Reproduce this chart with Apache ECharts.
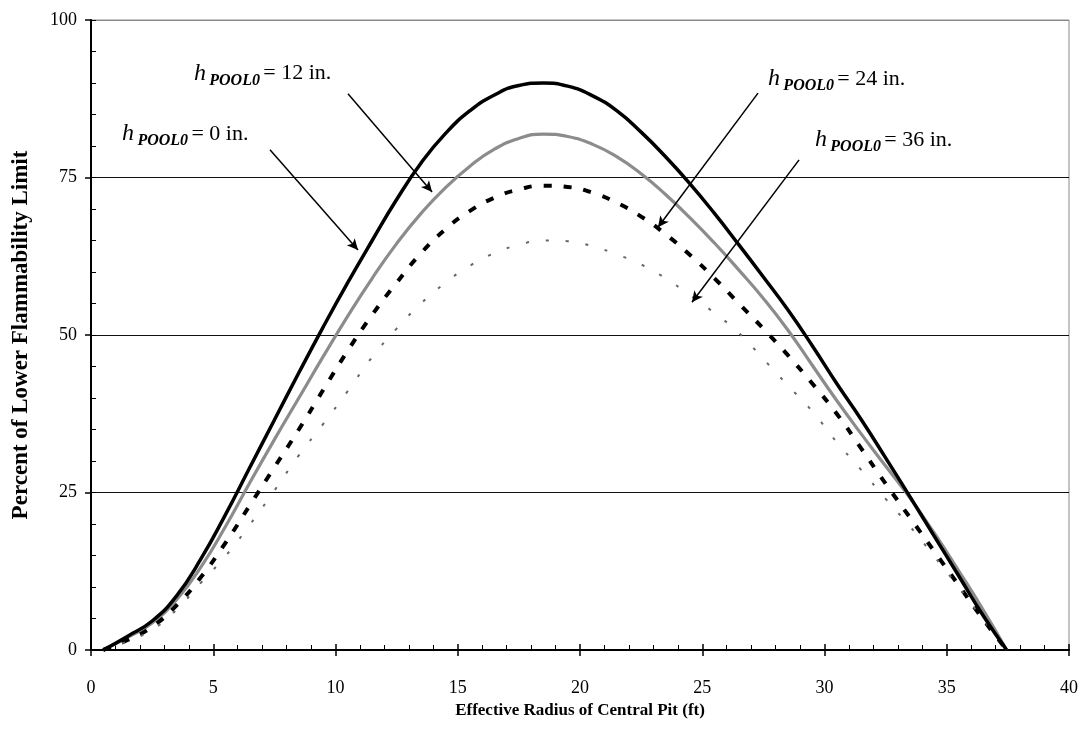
<!DOCTYPE html>
<html>
<head>
<meta charset="utf-8">
<script src="https://cdn.jsdelivr.net/npm/echarts@6/dist/echarts.min.js"></script>
<style>
  html, body { margin: 0; padding: 0; background: #fff; }
  #chart { width: 1082px; height: 742px; }
</style>
</head>
<body>
<div id="chart"></div>
<script>
// effective radius of central pit (ft)
var radius = [0.5, 1.5, 2.5, 3.5, 4.5, 5.5, 6.5, 7.5, 8.5, 9.5, 10.5, 11.5, 12.5, 13.5, 14.5, 15.5, 16.5, 17.5, 18.5,
    19.5, 20.5, 21.5, 22.5, 23.5, 24.5, 25.5, 26.5, 27.5, 28.5, 29.5, 30.5, 31.5, 32.5, 33.5, 34.5, 35.5, 36.5, 37.45];

// percent of LFL, one list per initial pool depth
var h0 = [0, 2.2, 4.6, 8.6, 14.5, 21.5, 29.0, 36.5, 44.0, 51.3, 58.3, 65.0, 71.5, 77.3, 82.0, 85.6, 88.1, 89.6, 90.0,
    89.5, 88.0, 85.6, 82.2, 78.3, 74.0, 69.3, 64.3, 59.2, 54.0, 48.3, 42.3, 36.6, 30.5, 24.3, 18.0, 11.7, 5.4, 0];
var h12 = [0, 2.0, 4.3, 8.0, 13.2, 19.6, 26.6, 33.4, 40.0, 46.6, 53.0, 59.0, 64.5, 69.3, 73.4, 76.8, 79.5, 81.2, 81.9,
    81.5, 80.3, 78.3, 75.6, 72.3, 68.6, 64.6, 60.3, 55.8, 50.8, 45.2, 39.6, 34.3, 29.2, 24.1, 18.5, 12.5, 6.3, 0];
var h24 = [0, 1.6, 3.7, 7.1, 11.6, 17.0, 23.0, 29.0, 35.0, 41.3, 47.5, 53.2, 58.3, 63.0, 66.8, 69.7, 71.8, 73.1, 73.7,
    73.5, 72.6, 71.0, 68.8, 66.0, 62.7, 59.0, 55.0, 51.0, 46.8, 42.3, 37.5, 32.0, 26.4, 21.0, 15.6, 10.2, 4.8, 0];
var h36 = [0, 1.4, 3.2, 6.4, 10.7, 14.9, 19.9, 25.3, 30.9, 35.9, 41.1, 46.5, 51.0, 55.0, 58.3, 61.0, 63.0, 64.3, 65.0,
    64.9, 64.1, 62.8, 61.2, 59.0, 56.3, 53.5, 50.3, 46.2, 42.0, 37.9, 33.0, 28.6, 24.0, 19.6, 14.8, 9.9, 4.8, 0];

var xTicks = [0, 5, 10, 15, 20, 25, 30, 35, 40];
var yTicks = [0, 25, 50, 75, 100];

// annotations, in data coordinates
var noteNames = ['0 in.', '12 in.', '24 in.', '36 in.'];
var noteAt = [[1.27, 81.4], [4.21, 91.0], [27.69, 90.2], [29.61, 80.5]];
var arrowFrom = [[7.32, 79.4], [10.51, 88.3], [27.28, 88.4], [28.96, 77.8]];
var arrowTo = [[10.92, 63.5], [13.95, 72.7], [23.19, 67.1], [24.58, 55.2]];

var serif = '"Liberation Serif", "DejaVu Serif", serif';

function pairs(xs, ys) {
    return xs.map(function (x, i) { return [x, ys[i]]; });
}

var chart = echarts.init(document.getElementById('chart'));

var arrows = arrowFrom.map(function (p, i) {
    return [{ coord: p }, { coord: arrowTo[i] }];
});

var option = {
    backgroundColor: '#fff',
    animation: false,
    grid: {
        left: 91, right: 13, top: 20, bottom: 92,
        show: true, borderColor: '#8a8a8a', borderWidth: 1
    },
    xAxis: [
        {
            type: 'value', position: 'bottom',
            min: 0, max: 40, interval: 5,
            name: 'Effective Radius of Central Pit (ft)',
            nameLocation: 'middle',
            nameGap: 50,
            nameTextStyle: { fontFamily: serif, fontWeight: 'bold', fontSize: 17, color: '#000' },
            axisLine: { lineStyle: { color: '#000', width: 2 } },
            axisTick: { show: true, length: 6, lineStyle: { color: '#000', width: 1.5 } },
            axisLabel: {
                margin: 29, fontFamily: serif, fontSize: 18, color: '#000',
                formatter: function (v) { return xTicks.indexOf(v) >= 0 ? String(v) : ''; }
            },
            splitLine: { show: false }
        },
        {
            // inner ticks + minor ticks
            type: 'value', position: 'bottom', offset: 0,
            min: 0, max: 40, interval: 5,
            axisLine: { show: false },
            axisTick: { show: true, inside: true, length: 6, lineStyle: { color: '#000', width: 1.5 } },
            minorTick: { show: true, splitNumber: 5, length: 5, lineStyle: { color: '#000', width: 1 } },
            axisLabel: { show: false },
            splitLine: { show: false }
        }
    ],
    yAxis: [
        {
            type: 'value', position: 'left',
            min: 0, max: 100, interval: 25,
            name: 'Percent of Lower Flammability Limit',
            nameLocation: 'middle',
            nameGap: 58,
            nameTextStyle: { fontFamily: serif, fontWeight: 'bold', fontSize: 23, color: '#000' },
            axisLine: { lineStyle: { color: '#000', width: 2 } },
            axisTick: { show: true, length: 6, lineStyle: { color: '#000', width: 1.5 } },
            axisLabel: {
                margin: 14, fontFamily: serif, fontSize: 18, color: '#000',
                formatter: function (v) { return yTicks.indexOf(v) >= 0 ? String(v) : ''; }
            },
            splitLine: { show: true, lineStyle: { color: ['#000', '#111', '#111', '#111', '#8a8a8a'], width: 1 } }
        },
        {
            type: 'value', position: 'left', offset: 0,
            min: 0, max: 100, interval: 25,
            axisLine: { show: false },
            axisTick: { show: true, inside: true, length: 5, lineStyle: { color: '#000', width: 1 } },
            minorTick: { show: true, splitNumber: 5, length: 5, lineStyle: { color: '#000', width: 1 } },
            axisLabel: { show: false },
            splitLine: { show: false }
        }
    ],
    series: [
        {
            name: 'h0', type: 'line', data: pairs(radius, h0), smooth: true,
            showSymbol: false, z: 4,
            lineStyle: { color: '#000', width: 3.5 },
            markLine: {
                silent: true,
                symbol: ['none', 'arrow'],
                symbolSize: [8, 11],
                label: { show: false },
                lineStyle: { color: '#000', width: 1.5, type: 'solid' },
                data: arrows
            }
        },
        {
            name: 'h12', type: 'line', data: pairs(radius, h12), smooth: true,
            showSymbol: false, z: 3,
            lineStyle: { color: '#8c8c8c', width: 3.2 }
        },
        {
            name: 'h24', type: 'line', data: pairs(radius, h24), smooth: true,
            showSymbol: false, z: 3,
            lineStyle: { color: '#000', width: 4, type: [8, 12] }
        },
        {
            name: 'h36', type: 'line', data: pairs(radius, h36), smooth: true,
            showSymbol: false, z: 3,
            lineStyle: { color: '#666', width: 2, type: [3, 17] }
        }
    ]
};

chart.setOption(option);

// labels "h POOL0 = .. in." placed from data coords
var labels = noteAt.map(function (p, i) {
    var px = chart.convertToPixel({ xAxisIndex: 0, yAxisIndex: 0 }, p);
    return {
        type: 'text',
        left: px[0],
        top: px[1] - 15,
        z: 10,
        style: {
            text: '{h|h} {s|POOL0} {t|= ' + noteNames[i] + '}',
            rich: {
                h: { fontFamily: serif, fontStyle: 'italic', fontSize: 24, lineHeight: 30, fill: '#000' },
                s: { fontFamily: serif, fontStyle: 'italic', fontWeight: 'bold', fontSize: 16, lineHeight: 20, verticalAlign: 'bottom', fill: '#000' },
                t: { fontFamily: serif, fontSize: 22, lineHeight: 30, fill: '#000' }
            }
        }
    };
});
chart.setOption({ graphic: labels });
</script>
</body>
</html>
